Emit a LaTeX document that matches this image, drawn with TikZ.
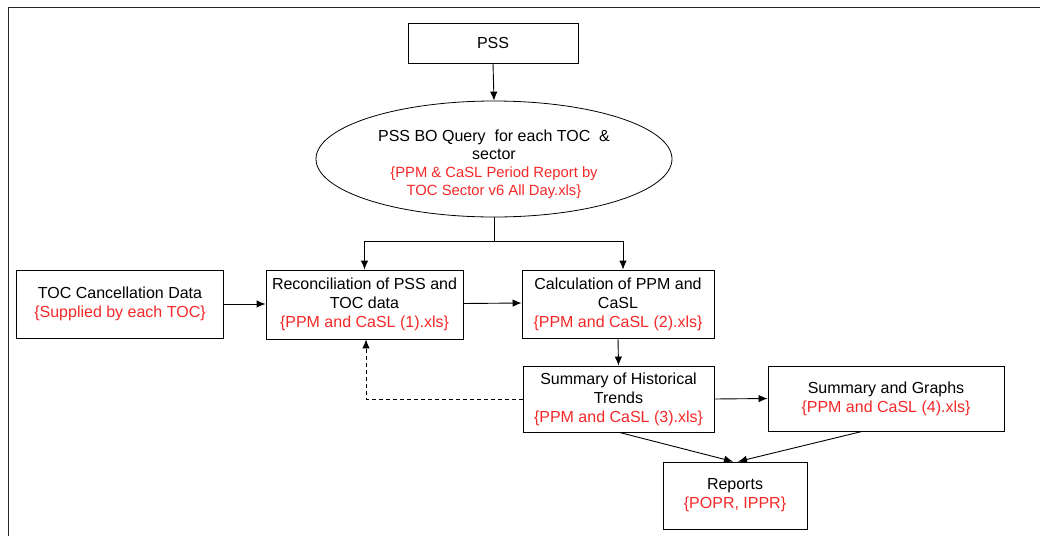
\documentclass[tikz,border=0pt]{standalone}
\usepackage{fontspec}
\setmainfont{Liberation Sans}
\usepackage{xcolor}
\usetikzlibrary{shapes.geometric,arrows.meta}

\definecolor{fileRed}{RGB}{245,40,40}
\newcommand{\fname}[1]{\textcolor{fileRed}{#1}}

\begin{document}
\begin{tikzpicture}[x=1pt, y=-1pt, >={Latex[length=9pt,width=7.5pt]},
  every node/.style={font=\fontsize{16}{19}\selectfont, align=center, inner sep=1pt},
  box/.style={draw, rectangle, line width=0.9pt},
  link/.style={line width=0.9pt, ->}]
  \useasboundingbox (0,0) rectangle (1040,536);
  % outer frame
  \draw[line width=1.6pt, black!85] (8.5,536) -- (8.5,7.5) -- (1040,7.5);

  \node[box, minimum width=170pt, minimum height=40pt] (pss) at (493,43) {PSS};
  \node[draw, ellipse, line width=0.8pt, minimum width=356pt, minimum height=116pt] (query) at (494,159)
    {\rule{0pt}{22pt}PSS BO Query \ for each TOC \ \&\\[-1pt]sector\\[-1pt]
     {\fontsize{14.8}{17}\selectfont\fname{\{PPM \& CaSL Period Report by}}\\[-1pt]
     {\fontsize{14.8}{17}\selectfont\fname{TOC Sector v6 All Day.xls\}}}};

  \node[box, minimum width=207pt, minimum height=68pt] (toc) at (120,304)
    {TOC Cancellation Data\\\fname{\{Supplied by each TOC\}}};
  \node[box, minimum width=197pt, minimum height=69pt] (recon) at (364.5,304.5)
    {Reconciliation of PSS and\\TOC data\\\fname{\{PPM and CaSL (1).xls\}}};
  \node[box, minimum width=192pt, minimum height=68pt] (calc) at (618,304)
    {Calculation of PPM and\\CaSL\\\fname{\{PPM and CaSL (2).xls\}}};
  \node[box, minimum width=191pt, minimum height=66pt] (hist) at (618.5,399)
    {Summary of Historical\\Trends\\\fname{\{PPM and CaSL (3).xls\}}};
  \node[box, minimum width=236pt, minimum height=65pt] (graphs) at (886,398.5)
    {Summary and Graphs\\\fname{\{PPM and CaSL (4).xls\}}};
  \node[box, minimum width=144pt, minimum height=67pt] (reports) at (735,495.5)
    {Reports\\\fname{\{POPR, IPPR\}}};

  \coordinate (split) at (494,241);
  \draw[link] (pss.south) -- (query.north);
  \draw[line width=0.9pt] (query.south) -- (split);
  \draw[link] (split) -| (recon.north);
  \draw[link] (split) -| ([xshift=5pt]calc.north);
  \draw[link] (toc.east) -- (recon.west |- toc.east);
  \draw[link] ([yshift=1pt]recon.east) -- ([yshift=1pt]calc.west);
  \draw[link] (calc.south) -- (hist.north);
  \draw[link] (hist.east) -- (graphs.west);
  \draw[link, dash pattern=on 4pt off 3pt] (hist.west) -| ([xshift=1.5pt]recon.south);
  \draw[link] ([xshift=1pt]hist.south) -- ([xshift=-2pt]reports.north);
  \draw[link] ([xshift=-24pt]graphs.south) -- ([xshift=3pt]reports.north);
\end{tikzpicture}
\end{document}
